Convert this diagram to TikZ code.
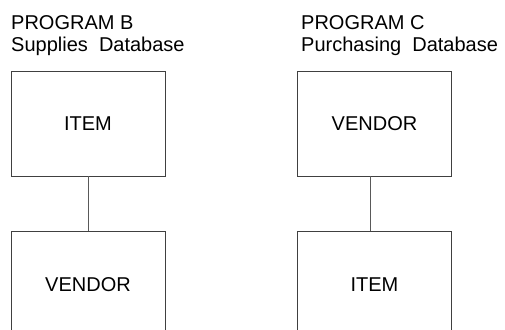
\documentclass[tikz,border=0pt]{standalone}
\usepackage{fontspec}
\setmainfont{Liberation Sans}
\usetikzlibrary{positioning}

\begin{document}
\begin{tikzpicture}[x=1pt,y=-1pt,
  rec/.style={draw=black!75,line width=.8pt,minimum width=154pt,minimum height=105pt,inner sep=0pt,font=\fontsize{20}{22}\selectfont},
  title/.style={anchor=north west,inner sep=0pt,align=left,font=\fontsize{20}{22}\selectfont},
  link/.style={draw=black!65,line width=.8pt}]
% Frame (lower boxes run off the bottom)
\useasboundingbox (0,0) rectangle (505,329);
\clip (0,0) rectangle (505,329);

% Headings
\node[title] (progb) at (11,15) {PROGRAM B\\Supplies\ \ Database};
\node[title] (progc) at (301,15) {PROGRAM C\\Purchasing\ \ Database};

% Records
\node[rec] (itemb) at (88,123.5) {ITEM};
\node[rec,below=55pt of itemb] (vendorb) {VENDOR};
\node[rec] (vendorc) at (374.5,123.5) {VENDOR};
\node[rec,below=55pt of vendorc] (itemc) {ITEM};

% Links
\draw[link] (itemb) -- (vendorb);
\draw[link] ([xshift=-4pt]vendorc.south) -- ([xshift=-4pt]itemc.north);

\end{tikzpicture}
\end{document}
